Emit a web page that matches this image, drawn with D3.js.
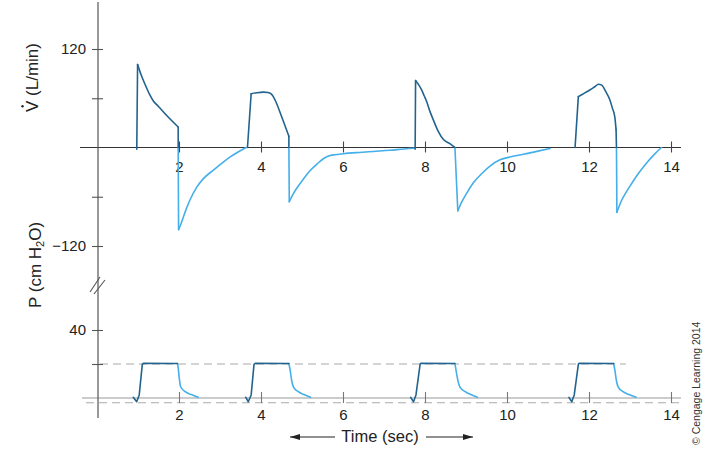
<!DOCTYPE html>
<html><head><meta charset="utf-8">
<script src="https://cdn.jsdelivr.net/npm/d3@7"></script>
<style>
html,body{margin:0;padding:0;background:#fff;}
svg{display:block;font-family:"Liberation Sans",Arial,Helvetica,sans-serif;}
</style></head>
<body>
<svg id="chart" width="710" height="458"></svg>
<script>
// ---------- data ----------
const xTicks = [2, 4, 6, 8, 10, 12, 14];
const flowTicks = [-120, -60, 60, 120];
const flowTickLabels = [-120, 120];
const pressTicks = [20, 40];
const pressTickLabels = [40];

// Flow (L/min) vs time (sec): inspiration (dark) and expiration (light)
const flowInsp1 = [[0.97,-2],[0.99,101],[1.08,88],[1.18,76],[1.28,65],[1.37,57],[1.5,50],[1.7,39],[1.98,25],[1.98,0]];
const flowExp1  = [[1.98,0],[1.99,-100],[2.05,-93],[2.105,-85],[2.18,-74.5],[2.27,-63.6],[2.43,-48.5],[2.59,-38.2],[2.84,-27.5],[3.08,-17.8],[3.25,-11.5],[3.41,-6.4],[3.64,0]];
const flowInsp2 = [[3.67,0],[3.76,65.5],[3.9,66.8],[4.06,67.5],[4.17,67],[4.24,65.5],[4.3,62],[4.36,56],[4.5,38],[4.68,13.7],[4.68,0]];
const flowExp2  = [[4.68,0],[4.69,-66],[4.78,-57],[4.88,-49],[5.03,-38.8],[5.2,-28],[5.38,-19.5],[5.52,-13.7],[5.65,-10.5],[5.8,-8.8],[6.01,-7.6],[6.4,-6],[6.74,-4.8],[7.15,-3.4],[7.5,-1.8],[7.74,-1]];
const flowInsp3 = [[7.76,-2],[7.77,81.6],[7.85,76],[7.92,70],[7.98,63],[8.04,56],[8.12,44],[8.2,34],[8.32,20],[8.45,9.7],[8.6,5],[8.73,0]];
const flowExp3  = [[8.73,0],[8.8,-77],[8.9,-66],[9.0,-57],[9.18,-43],[9.4,-31],[9.6,-22],[9.83,-15],[10.1,-11.3],[10.4,-8.3],[10.7,-5],[11.05,-1.2]];
const flowInsp4 = [[11.66,0],[11.74,62],[11.88,66],[12.02,70],[12.14,74],[12.23,77],[12.31,76],[12.41,68],[12.51,58],[12.57,48],[12.63,37],[12.66,22],[12.67,0]];
const flowExp4  = [[12.67,0],[12.68,-79],[12.8,-64],[12.9,-55],[13.0,-47],[13.2,-32],[13.41,-18.5],[13.6,-8],[13.77,0]];

// Pressure (cm H2O) vs time (sec)
const pressInsp1 = [[0.885,0.4],[0.968,-2.2],[1.03,1.8],[1.105,19.8],[1.13,20.4],[1.96,20.3]];
const pressExp1  = [[1.96,20.3],[1.98,18],[2.0,13],[2.04,6.6],[2.15,3.7],[2.3,2],[2.47,0.4]];
const pressInsp2 = [[3.63,0.4],[3.69,-2.2],[3.76,1.8],[3.83,19.8],[3.86,20.4],[4.68,20.3]];
const pressExp2  = [[4.68,20.3],[4.71,16.5],[4.75,10],[4.79,6.6],[4.91,3.7],[5.05,2],[5.21,0.4]];
const pressInsp3 = [[7.65,0.4],[7.72,-2.2],[7.78,1.8],[7.88,19.8],[7.9,20.4],[8.73,20.3]];
const pressExp3  = [[8.73,20.3],[8.77,14.5],[8.81,9.5],[8.85,6.6],[8.98,3.7],[9.12,2],[9.28,0.4]];
const pressInsp4 = [[11.51,0.4],[11.58,-2.2],[11.64,1.8],[11.74,19.8],[11.76,20.4],[12.6,20.3]];
const pressExp4  = [[12.6,20.3],[12.63,16.5],[12.67,10],[12.71,6.6],[12.83,3.7],[12.98,2],[13.15,0.4]];

const peakPressureLine = 20;   // dashed reference
const triggerLine = -2.8;      // dashed reference (sensitivity)

// ---------- drawing ----------
const svg = d3.select("#chart");
const x  = d3.scaleLinear().domain([0, 14]).range([97, 671]);
const yV = d3.scaleLinear().domain([-120, 120]).range([246, 49]);
const yP = d3.scaleLinear().domain([0, 40]).range([398, 330]);

const dark = "#22648f", light = "#44afe9", axisCol = "#555", txt = "#222";
const font = "Liberation Sans, Arial, sans-serif";

// reference lines in pressure panel
svg.append("line").attr("x1", 100).attr("x2", x(12.9))
  .attr("y1", yP(peakPressureLine)).attr("y2", yP(peakPressureLine))
  .attr("stroke", "#aaa").attr("stroke-width", 1.2).attr("stroke-dasharray", "8,5");
svg.append("line").attr("x1", 86).attr("x2", 681)
  .attr("y1", yP(triggerLine)).attr("y2", yP(triggerLine))
  .attr("stroke", "#aaa").attr("stroke-width", 1.2).attr("stroke-dasharray", "8,5");
svg.append("line").attr("x1", 82).attr("x2", 681)
  .attr("y1", yP(0)).attr("y2", yP(0))
  .attr("stroke", "#999").attr("stroke-width", 1.2);

// top zero line
svg.append("line").attr("x1", 80).attr("x2", 681)
  .attr("y1", yV(0)).attr("y2", yV(0))
  .attr("stroke", "#333").attr("stroke-width", 1.2);

// vertical axis line
svg.append("line").attr("x1", 98).attr("x2", 98).attr("y1", 2).attr("y2", 418)
  .attr("stroke", axisCol).attr("stroke-width", 1.2);

// break marks
[[90,292,100,277],[94,294,105,280]].forEach(d => {
  svg.append("line").attr("x1", d[0]).attr("y1", d[1]).attr("x2", d[2]).attr("y2", d[3])
    .attr("stroke", axisCol).attr("stroke-width", 1.1);
});

// top x axis
const gxTop = svg.append("g").attr("transform", `translate(0,${yV(0)})`)
  .call(d3.axisBottom(x).tickValues(xTicks).tickFormat(d3.format("d")));
gxTop.select(".domain").remove();
gxTop.selectAll(".tick line").attr("y1", -6).attr("y2", 5).attr("stroke", "#444").attr("stroke-width", 1.1);
gxTop.selectAll(".tick text").attr("y", 14).attr("fill", txt).style("font-size", "15px").style("font-family", font);

// bottom x axis
const gxBot = svg.append("g").attr("transform", `translate(0,${yP(0)})`)
  .call(d3.axisBottom(x).tickValues(xTicks).tickFormat(d3.format("d")));
gxBot.select(".domain").remove();
gxBot.selectAll(".tick line").attr("y1", -6).attr("y2", 5).attr("stroke", "#777").attr("stroke-width", 1.1);
gxBot.selectAll(".tick text").attr("y", 11).attr("fill", txt).style("font-size", "15px").style("font-family", font);

// left axis: flow
const gyV = svg.append("g").attr("transform", "translate(98,0)")
  .call(d3.axisLeft(yV).tickValues(flowTicks)
    .tickFormat(d => flowTickLabels.includes(d) ? d3.format("d")(d) : ""));
gyV.select(".domain").remove();
gyV.selectAll(".tick line").attr("x1", -6).attr("x2", 5).attr("stroke", axisCol).attr("stroke-width", 1.1);
gyV.selectAll(".tick text").attr("x", -12).attr("fill", txt).style("font-size", "15px").style("font-family", font);

// left axis: pressure
const gyP = svg.append("g").attr("transform", "translate(98,0)")
  .call(d3.axisLeft(yP).tickValues(pressTicks)
    .tickFormat(d => pressTickLabels.includes(d) ? d3.format("d")(d) : ""));
gyP.select(".domain").remove();
gyP.selectAll(".tick line").attr("x1", -6).attr("x2", 5).attr("stroke", axisCol).attr("stroke-width", 1.1);
gyP.selectAll(".tick text").attr("x", -12).attr("fill", txt).style("font-size", "15px").style("font-family", font);

// curves: straight pieces for the abrupt jumps, monotone smoothing for the rest
const linV = d3.line().x(d => x(d[0])).y(d => yV(d[1]));
const smV  = d3.line().x(d => x(d[0])).y(d => yV(d[1])).curve(d3.curveMonotoneX);
const linP = d3.line().x(d => x(d[0])).y(d => yP(d[1]));
const smP  = d3.line().x(d => x(d[0])).y(d => yP(d[1])).curve(d3.curveMonotoneX);

function stroke(data, gen, color) {
  if (data.length < 2) return;
  svg.append("path").datum(data).attr("d", gen)
    .attr("fill", "none").attr("stroke", color).attr("stroke-width", 1.6)
    .attr("stroke-linejoin", "round").attr("stroke-linecap", "round");
}
// a = index where smooth part starts, b = index where it ends (inclusive)
function drawPiecewise(data, lin, sm, color, a, b) {
  stroke(data.slice(0, a + 1), lin, color);
  stroke(data.slice(a, b + 1), sm, color);
  stroke(data.slice(b), lin, color);
}
[flowExp1, flowExp2, flowExp3, flowExp4].forEach(d =>
  drawPiecewise(d, linV, smV, light, 1, d.length - 1));
[flowInsp1, flowInsp2, flowInsp4].forEach(d =>
  drawPiecewise(d, linV, smV, dark, 1, d.length - 2));
drawPiecewise(flowInsp3, linV, smV, dark, 1, flowInsp3.length - 1);
[pressExp1, pressExp2, pressExp3, pressExp4].forEach(d =>
  drawPiecewise(d, linP, smP, light, 0, d.length - 1));
[pressInsp1, pressInsp2, pressInsp3, pressInsp4].forEach(d => stroke(d, linP, dark));

// axis titles
const gVt = svg.append("g").attr("transform", "translate(38,112) rotate(-90)");
gVt.append("text").attr("x", 0).attr("y", 0).attr("fill", txt)
  .style("font-size", "17px").text("V (L/min)");
gVt.append("circle").attr("cx", 5.7).attr("cy", -15.5).attr("r", 1.2).attr("fill", txt);

const gPt = svg.append("g").attr("transform", "translate(41,308) rotate(-90)");
const pt = gPt.append("text").attr("x", 0).attr("y", 0).attr("fill", txt).style("font-size", "17px");
pt.append("tspan").text("P (cm H");
pt.append("tspan").attr("dy", 3).style("font-size", "11px").text("2");
pt.append("tspan").attr("dy", -3).text("O)");

// time label with arrows
svg.append("defs").append("marker").attr("id", "ah").attr("viewBox", "0 0 10 6")
  .attr("refX", 10).attr("refY", 3).attr("markerWidth", 10).attr("markerHeight", 6)
  .attr("markerUnits", "userSpaceOnUse").attr("orient", "auto")
  .append("path").attr("d", "M0,0 L10,3 L0,6 Z").attr("fill", txt);
svg.append("line").attr("x1", 335).attr("y1", 437).attr("x2", 290).attr("y2", 437)
  .attr("stroke", txt).attr("stroke-width", 1.2).attr("marker-end", "url(#ah)");
svg.append("line").attr("x1", 426).attr("y1", 437).attr("x2", 473).attr("y2", 437)
  .attr("stroke", txt).attr("stroke-width", 1.2).attr("marker-end", "url(#ah)");
svg.append("text").attr("x", 380).attr("y", 442).attr("text-anchor", "middle")
  .attr("fill", txt).style("font-size", "16.5px").text("Time (sec)");

// copyright
svg.append("text").attr("transform", "translate(700,445) rotate(-90)")
  .attr("fill", "#333").style("font-size", "10.5px").text("© Cengage Learning 2014");
</script>
</body></html>
